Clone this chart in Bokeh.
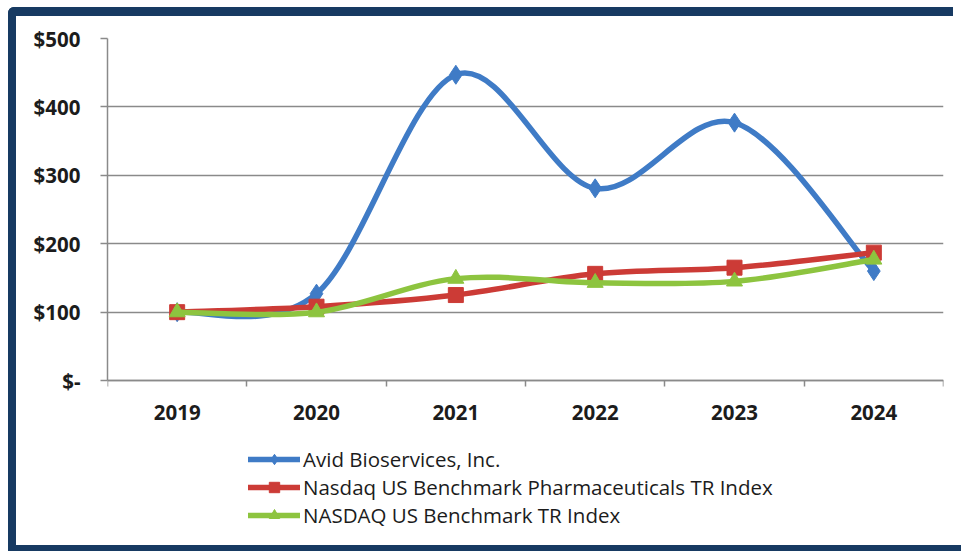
from bokeh.plotting import figure
from bokeh.models import (Range1d, FixedTicker, Legend, LegendItem, ColumnDataSource)
from bokeh.embed import file_html
from bokeh.resources import INLINE

years = ["2019", "2020", "2021", "2022", "2023", "2024"]
avid = [100, 127, 447, 281, 377, 160]
pharma = [100, 108, 125, 156, 165, 187]
nasdaq = [100, 100, 149, 143, 145, 177]
y_ticks = [0, 100, 200, 300, 400, 500]
y_labels = ["$-", "$100", "$200", "$300", "$400", "$500"]

series = [
    ("Avid Bioservices, Inc.", avid, "#3f7bc6", "diamond", 19),
    ("Nasdaq US Benchmark Pharmaceuticals TR Index", pharma, "#cc3b36", "square", 15),
    ("NASDAQ US Benchmark TR Index", nasdaq, "#8dc43f", "triangle", 16),
]

FONT = "Open Sans"
NAVY = "#173a62"

p = figure(width=945, height=614, output_backend="svg", toolbar_location=None,
           x_range=Range1d(0, 6), y_range=Range1d(-263, 500),
           min_border_left=91, min_border_right=18, min_border_top=22,
           min_border_bottom=70,
           styles={"border-left": f"8px solid {NAVY}", "border-top": f"9px solid {NAVY}",
                   "border-top-left-radius": "6px",
                   "position": "relative", "left": "8px", "top": "7px"})
p.outline_line_color = None
p.background_fill_color = "white"
p.border_fill_color = "white"

xc = [i + 0.5 for i in range(len(years))]

# axes
p.xaxis.fixed_location = 0
p.xaxis.ticker = FixedTicker(ticks=xc, minor_ticks=list(range(len(years) + 1)))
p.xaxis.major_label_overrides = {x: y for x, y in zip(xc, years)}
p.xaxis.major_tick_line_color = None
p.xaxis.major_tick_out = 0
p.xaxis.major_tick_in = 0
p.xaxis.minor_tick_out = 6
p.xaxis.minor_tick_in = 0
p.xaxis.minor_tick_line_color = "#8a8a8a"
p.xaxis.minor_tick_line_width = 1.5
p.xaxis.major_label_standoff = 18
p.xgrid.grid_line_color = None

p.yaxis.ticker = FixedTicker(ticks=y_ticks, minor_ticks=[])
p.yaxis.bounds = (0, 500)
p.yaxis.major_label_overrides = {t: l for t, l in zip(y_ticks, y_labels)}
p.yaxis.major_tick_out = 7
p.yaxis.major_tick_in = 0
p.yaxis.major_tick_line_color = "#8a8a8a"
p.yaxis.major_tick_line_width = 1.5
p.yaxis.major_label_standoff = 20
p.ygrid.grid_line_color = "#8a8a8a"
p.ygrid.grid_line_width = 1.6

for ax in (p.xaxis, p.yaxis):
    ax.axis_line_color = "#8a8a8a"
    ax.axis_line_width = 1.5
    ax.major_label_text_font = FONT
    ax.major_label_text_font_style = "bold"
    ax.major_label_text_font_size = "20.5px"
    ax.major_label_text_color = "#1c1c1c"

items = []
for name, vals, color, marker, size in series:
    n = len(vals)
    x0, y0, x1, y1, cx0, cy0, cx1, cy1 = [], [], [], [], [], [], [], []
    for i in range(n - 1):
        pi = (xc[i], vals[i])
        pn = (xc[i + 1], vals[i + 1])
        pp = (xc[i - 1], vals[i - 1]) if i > 0 else pi
        pnn = (xc[i + 2], vals[i + 2]) if i + 2 < n else pn
        x0.append(pi[0]); y0.append(pi[1]); x1.append(pn[0]); y1.append(pn[1])
        cx0.append(pi[0] + (pn[0] - pp[0]) / 6); cy0.append(pi[1] + (pn[1] - pp[1]) / 6)
        cx1.append(pn[0] - (pnn[0] - pi[0]) / 6); cy1.append(pn[1] - (pnn[1] - pi[1]) / 6)
    src = ColumnDataSource(dict(x0=x0, y0=y0, x1=x1, y1=y1, cx0=cx0, cy0=cy0, cx1=cx1, cy1=cy1))
    bz = p.bezier(x0="x0", y0="y0", x1="x1", y1="y1", cx0="cx0", cy0="cy0", cx1="cx1", cy1="cy1",
                  source=src, line_color=color, line_width=5.5, line_cap="round")
    sc = p.scatter(xc, vals, marker=marker, size=size, fill_color=color, line_color=color)
    items.append(LegendItem(label=name, renderers=[bz, sc]))

legend = Legend(items=items, location=(141, 31), orientation="vertical",
                glyph_width=52, glyph_height=26, label_height=26, spacing=0,
                label_standoff=3, padding=0, margin=0, border_line_color=None,
                background_fill_alpha=0, label_text_font=FONT,
                label_text_font_size="20.5px", label_text_color="#1c1c1c")
p.add_layout(legend, "center")

html = file_html(p, INLINE)
html = html.replace("<head>", "<head><style>html,body{overflow:hidden;}</style>", 1)
html = html.replace("</body>", f'<div style="position:fixed;left:8px;right:0;bottom:0;height:6px;background:{NAVY};"></div></body>', 1)
open("out.html", "w").write(html)
